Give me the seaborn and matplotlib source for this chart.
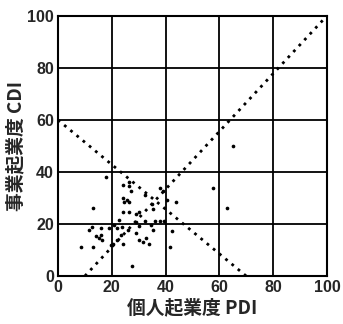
import matplotlib.pyplot as plt
import pandas as pd
import seaborn as sns

sns.set_theme(style="white")
plt.rcParams['font.family'] = ['Noto Sans CJK JP', 'DejaVu Sans']

# individual (PDI) vs corporate (CDI) entrepreneurship scores
pdi = [18, 13, 24, 26.3, 26.3, 27, 24, 25.5, 26.3, 24, 26.3, 29, 30.3, 32.5, 35, 35.3,
       37.8, 39, 40.6, 44, 22.7, 21, 19, 22, 23.7, 26, 29, 30.3, 32.5, 34.6, 35.3, 36,
       37.8, 39.4, 42.5, 41.5, 29, 30.3, 31.5, 32.7, 34, 23.4, 22, 19.6, 20.5, 16, 15.2,
       14, 16.5, 11.5, 12.7, 8.7, 13, 16, 27.5, 24.6, 65, 57.7, 62.7, 24.3]
cdi = [38, 26, 35, 36, 34.5, 32.5, 30, 29.3, 28.6, 24.8, 24.8, 24, 24.8, 31.2, 27.6, 25.7,
       33.8, 32.5, 29.3, 28.6, 21.5, 19.6, 18.3, 18.3, 18.7, 17.7, 20.9, 19.2, 21.3, 19.6, 17.7, 21.3,
       21.3, 21.3, 17.4, 11.2, 16.4, 13.8, 13.2, 14.5, 12.5, 15.7, 13.8, 11.9, 12.3, 15.7, 14.5,
       15.4, 13.8, 17.7, 18.7, 11, 11.2, 18.3, 3.8, 28.5, 50, 33.7, 26, 12.3]

df = pd.DataFrame({"PDI": pdi, "CDI": cdi})

fig, ax = plt.subplots(figsize=(3.43, 3.24), dpi=100)
fig.subplots_adjust(left=0.169, right=0.953, top=0.951, bottom=0.148)

sns.scatterplot(data=df, x="PDI", y="CDI", color="black", s=7, linewidth=0, ax=ax)

# reference lines
ax.plot([10, 100], [0, 100], color="black", linestyle=(0, (1, 1.9)), linewidth=2)
ax.plot([0, 70], [60, 0], color="black", linestyle=(0, (1, 1.9)), linewidth=2)

ax.set_xlim(0, 100)
ax.set_ylim(0, 100)
ticks = [0, 20, 40, 60, 80, 100]
ax.set_xticks(ticks)
ax.set_yticks(ticks)
ax.grid(True, color="black", linewidth=1.3)
for sp in ax.spines.values():
    sp.set_color("black")
    sp.set_linewidth(1.5)
ax.tick_params(length=2, width=1, color="black", pad=1, labelsize=11.5)
for lab in ax.get_xticklabels() + ax.get_yticklabels():
    lab.set_fontfamily(['Liberation Sans', 'DejaVu Sans'])
    lab.set_fontweight("bold")

ax.set_xlabel("個人起業度 PDI", fontsize=13.5, fontweight="bold", labelpad=2)
ax.set_ylabel("事業起業度 CDI", fontsize=13.5, fontweight="bold", labelpad=1)

fig.savefig("out.png", dpi=100)
